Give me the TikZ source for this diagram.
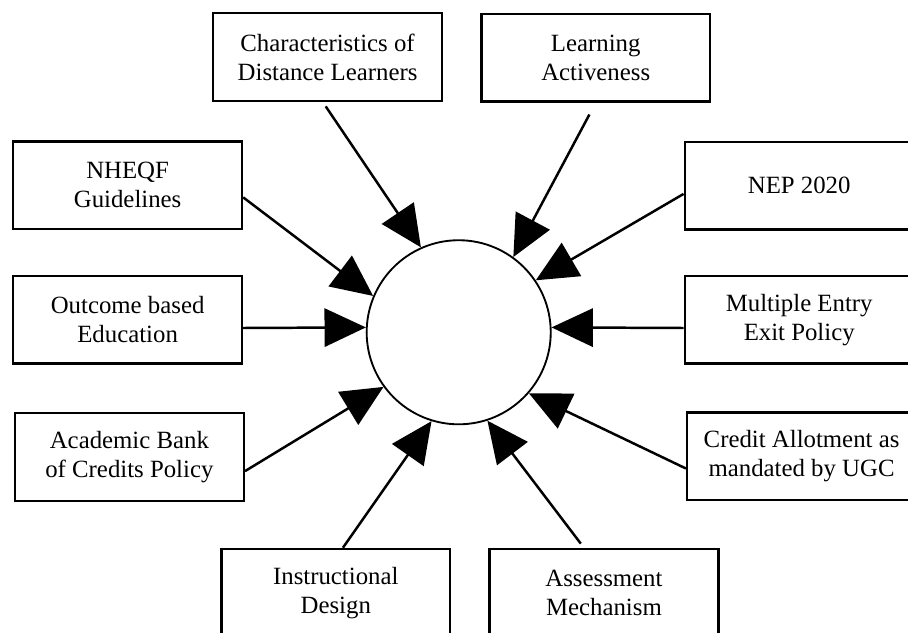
\documentclass[tikz,border=0pt]{standalone}
\usepackage{fontspec}
\setmainfont{Liberation Serif}
\usepackage{tikz}
\usetikzlibrary{arrows.meta}

\begin{document}
\begin{tikzpicture}[
      factor/.style={rectangle, draw, line width=1.2pt, minimum width=3.89cm,
                     minimum height=1.49cm, inner sep=2pt, align=center,
                     font=\fontsize{12}{14}\selectfont},
      core/.style={circle, draw, line width=0.9pt, minimum size=3.13cm,
                   inner sep=0pt},
      feed/.style={line width=1.2pt, -{Triangle[length=20pt, width=18.5pt]}}
    ]
    \useasboundingbox (0,0) rectangle (15.44,10.76);

    % Central circle
    \node[core] (hub) at (7.80, 5.11) {};

    % Top row
    \node[factor] (chars) at (5.57, 9.79) {Characteristics of\\Distance Learners};
    \node[factor] (learn) at (10.13, 9.78) {Learning\\Activeness};

    % Right column
    \node[factor] (nep)    at (13.59, 7.60) {NEP 2020};
    \node[factor] (multi)  at (13.59, 5.32) {Multiple Entry\\Exit Policy};
    \node[factor] (credit) at (13.63, 3.00) {Credit Allotment as\\mandated by UGC};

    % Bottom row
    \node[factor] (assess) at (10.27, 0.68) {Assessment\\Mechanism};
    \node[factor] (instr)  at (5.71, 0.68) {Instructional\\Design};

    % Left column
    \node[factor] (bank)    at (2.20, 2.99) {Academic Bank\\of Credits Policy};
    \node[factor] (outcome) at (2.17, 5.32) {Outcome based\\Education};
    \node[factor] (nheqf)   at (2.17, 7.61) {NHEQF\\Guidelines};

    % Arrows into the circle
    \draw[feed, shorten <=2.5pt] (chars.-96) -- (hub.114);
    \draw[feed, shorten <=6.5pt] (learn.south) -- (hub.54);
    \draw[feed] (nep.184) -- (hub.34);
    \draw[feed] (multi.184) -- (hub.3);
    \draw[feed] (credit.186) -- (hub.-41);
    \draw[feed, shorten <=2.5pt] (assess.114) -- (hub.-72);
    \draw[feed] (instr.81) -- (hub.253);
    \draw[feed] (bank.-7) -- (hub.216);
    \draw[feed] (outcome.-4) -- (hub.177);
    \draw[feed] (nheqf.-6) -- (hub.157);
  \end{tikzpicture}
\end{document}
